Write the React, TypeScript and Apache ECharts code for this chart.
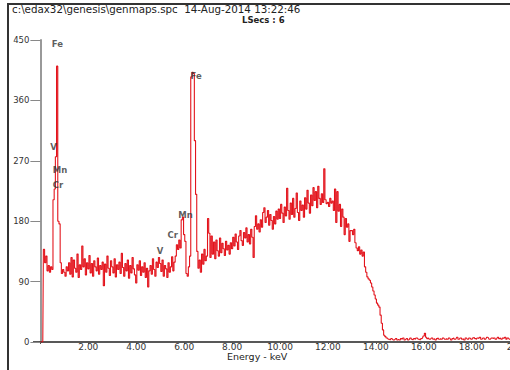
import React, { useEffect, useRef } from "react";
import * as echarts from "echarts";

// Channel width (keV) of the spectrum
const CHANNEL_KEV = 0.05;

// Counts per channel, one row per keV (20 channels each)
const counts: number[] = [
  // 0 keV
  0, 0, 0, 138, 118, 128, 106, 114, 104, 112, 108, 212, 228, 276, 411, 180, 176, 118, 102, 108,
  // 1 keV
  104, 98, 112, 106, 118, 101, 126, 97, 122, 110, 104, 131, 96, 115, 108, 143, 112, 124, 100, 118,
  // 2 keV
  109, 129, 103, 117, 98, 121, 112, 106, 125, 101, 114, 108, 119, 84, 116, 104, 128, 110, 99, 121,
  // 3 keV
  112, 103, 124, 97, 115, 108, 119, 102, 132, 111, 98, 117, 106, 122, 95, 114, 103, 126, 109, 100,
  // 4 keV
  88, 115, 107, 121, 99, 112, 104, 118, 96, 110, 82, 106, 114, 101, 124, 108, 98, 119, 111, 126,
  // 5 keV
  117, 105, 122, 98, 114, 109, 96, 118, 104, 112, 127, 106, 119, 128, 145, 138, 152, 140, 182, 186,
  // 6 keV
  160, 150, 102, 98, 112, 128, 395, 402, 400, 300, 220, 135, 110, 122, 104, 131, 116, 138, 121, 128,
  // 7 keV
  184, 162, 126, 158, 131, 149, 124, 152, 136, 128, 155, 133, 147, 139, 129, 150, 137, 144, 131, 148,
  // 8 keV
  139, 156, 143, 161, 149, 138, 158, 166, 151, 144, 163, 155, 170, 149, 160, 146, 168, 156, 126, 172,
  // 9 keV
  188, 168, 176, 164, 182, 171, 193, 200, 178, 186, 196, 174, 190, 181, 168, 187, 176, 195, 183, 198,
  // 10 keV
  184, 205, 192, 178, 201, 188, 229, 196, 183, 207, 190, 214, 186, 199, 222, 193, 181, 210, 196, 204,
  // 11 keV
  186, 215, 198, 226, 207, 192, 219, 203, 230, 211, 224, 200, 232, 214, 205, 221, 208, 258, 212, 206,
  // 12 keV
  208, 202, 214, 207, 210, 196, 228, 178, 224, 195, 205, 172, 198, 186, 160, 184, 171, 176, 150, 166,
  // 13 keV
  166, 160, 168, 148, 140, 136, 142, 131, 137, 128, 134, 112, 104, 97, 94, 92, 88, 82, 76, 70,
  // 14 keV
  64, 58, 55, 52, 40, 28, 18, 10, 8, 6, 5, 4, 3, 5, 4, 3, 4, 5, 3, 4,
  // 15 keV
  3, 5, 4, 6, 3, 4, 5, 3, 4, 6, 4, 3, 5, 4, 6, 5, 4, 3, 5, 6,
  // 16 keV
  9, 13, 7, 5, 6, 4, 5, 6, 4, 5, 3, 5, 6, 4, 5, 4, 6, 5, 4, 5,
  // 17 keV
  4, 6, 5, 3, 5, 6, 4, 5, 7, 4, 5, 6, 4, 5, 3, 6, 5, 4, 6, 5,
  // 18 keV
  4, 6, 7, 5, 4, 6, 5, 7, 4, 5, 6, 4, 5, 7, 6, 4, 5, 6, 5, 6,
  // 19 keV
  4, 5, 7, 5, 6, 4, 6, 5, 7, 4, 6, 5, 4, 6, 5, 7, 5, 4, 6, 5,
];

// Element annotations: [label, energy keV, counts at label position]
const peakLabels: [string, number, number][] = [
  ["Fe", 0.71, 444],
  ["V", 0.55, 291],
  ["Mn", 0.82, 256],
  ["Cr", 0.73, 234],
  ["Fe", 6.5, 396],
  ["Mn", 6.06, 189],
  ["Cr", 5.52, 159],
  ["V", 4.99, 135],
];

const title = "c:\\edax32\\genesis\\genmaps.spc  14-Aug-2014 13:22:46";
const subtitle = "LSecs : 6";
const xName = "Energy - keV";
const yTicks = { min: 0, max: 450, interval: 90 };
const xTicks = { min: 0, max: 20, interval: 2 };

const FONT = "DejaVu Sans, Liberation Sans, Arial, sans-serif";

export default function App() {
  const ref = useRef<HTMLDivElement>(null);
  useEffect(() => {
    if (!ref.current) return;
    const chart = echarts.init(ref.current, null, { renderer: "svg" });
    const spectrum = counts.map((c, i) => [+(i * CHANNEL_KEV).toFixed(2), c]);
    chart.setOption({
      animation: false,
      backgroundColor: "#ffffff",
      grid: {
        left: 40.4,
        top: 40,
        right: -9.6,
        bottom: 28,
        containLabel: false,
        outerBoundsMode: "none",
      },
      xAxis: {
        type: "value",
        min: xTicks.min,
        max: xTicks.max,
        interval: xTicks.interval,
        axisLine: { show: true, lineStyle: { color: "#222", width: 1.5 } },
        axisTick: { show: true, length: 2, lineStyle: { color: "#555" } },
        splitLine: { show: false },
        axisLabel: {
          margin: 0,
          fontFamily: FONT,
          fontSize: 9,
          color: "#333",
          hideOverlap: false,
          formatter: (v: number) => (v === 0 ? "" : v.toFixed(2)),
        },
      },
      yAxis: {
        type: "value",
        min: yTicks.min,
        max: yTicks.max,
        interval: yTicks.interval,
        axisLine: { show: true, lineStyle: { color: "#999", width: 2 } },
        axisTick: { show: true, length: 10, lineStyle: { color: "#888", width: 1 } },
        splitLine: { show: false },
        axisLabel: {
          margin: 11,
          fontFamily: FONT,
          fontSize: 8.5,
          color: "#333",
        },
      },
      series: [
        {
          type: "line",
          data: spectrum,
          step: "middle",
          showSymbol: false,
          symbol: "none",
          lineStyle: { color: "#e3141c", width: 1.1 },
          z: 2,
        },
        {
          type: "scatter",
          data: peakLabels.map(([n, e, v]) => ({ name: n, value: [e, v] })),
          symbolSize: 1,
          itemStyle: { color: "rgba(0,0,0,0)" },
          label: {
            show: true,
            position: "inside",
            formatter: "{b}",
            fontFamily: FONT,
            fontSize: 8.5,
            fontWeight: "bold",
            color: "#333",
          },
          z: 5,
        },
      ],
      graphic: [
        {
          type: "rect",
          shape: { x: 8, y: 4, width: 600, height: 420 },
          style: { fill: "none", stroke: "#333", lineWidth: 2 },
          silent: true,
        },
        {
          type: "line",
          shape: { x1: 33, y1: 342, x2: 41, y2: 342 },
          style: { stroke: "#222", lineWidth: 1.5 },
        },
        {
          type: "text",
          left: 12,
          top: 4,
          style: { text: title, font: `10.3px ${FONT}`, fill: "#222" },
        },
        {
          type: "text",
          left: 242,
          top: 15.5,
          style: { text: subtitle, font: `bold 8.5px ${FONT}`, fill: "#222" },
        },
        {
          type: "text",
          left: 227,
          top: 351,
          style: { text: xName, font: `9.5px ${FONT}`, fill: "#222" },
        },
      ],
    });
    return () => chart.dispose();
  }, []);
  return (
    <div
      ref={ref}
      style={{ position: "absolute", left: 0, top: 0, width: 510, height: 370 }}
    />
  );
}
